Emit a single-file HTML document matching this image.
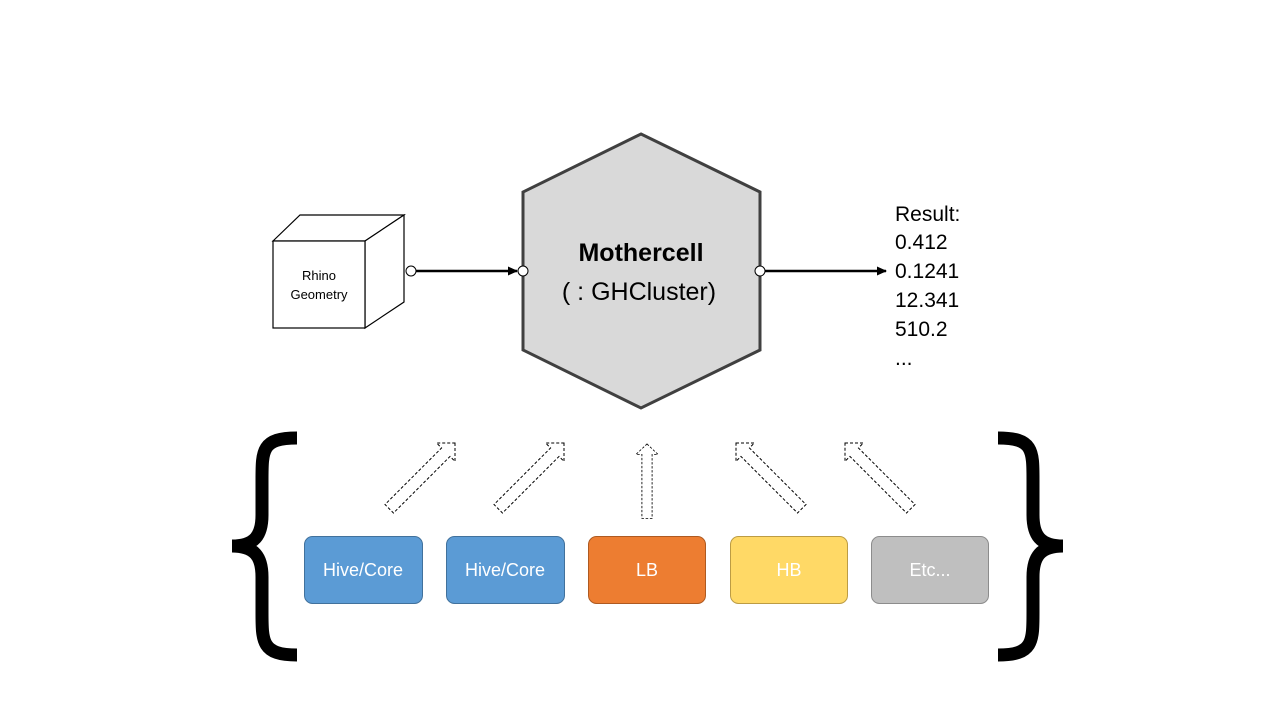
<!DOCTYPE html>
<html><head><style>
body{margin:0;width:1280px;height:720px;background:#fff;overflow:hidden;font-family:"Liberation Sans",sans-serif}
</style></head><body>
<svg width="1280" height="720" xmlns="http://www.w3.org/2000/svg">
<defs>
<marker id="ah" markerWidth="10" markerHeight="10" refX="9" refY="5" orient="auto" markerUnits="userSpaceOnUse"><path d="M0,0.5 L10,5 L0,9.5 z" fill="#000"/></marker>
<polygon id="arr" points="0,0 13,13 6,13 6,93 -6,93 -6,13 -13,13" fill="#fff" stroke="#000" stroke-width="1" stroke-dasharray="3,2"/>
</defs>
<g fill="#fff" stroke="#000" stroke-width="1.2">
<polygon points="273,241 300,215 404,215 365,241"/>
<polygon points="365,241 404,215 404,302 365,328"/>
<rect x="273" y="241" width="92" height="87"/>
</g>
<text x="319" y="280" font-size="13" text-anchor="middle">Rhino</text>
<text x="319" y="299" font-size="13" text-anchor="middle">Geometry</text>
<polygon points="641,134 760,192 760,350 641,408 523,350 523,192" fill="#d9d9d9" stroke="#404040" stroke-width="3"/>
<text x="641" y="261" font-size="25" font-weight="bold" text-anchor="middle">Mothercell</text>
<text x="639" y="300" font-size="25" text-anchor="middle">( : GHCluster)</text>
<line x1="416" y1="271" x2="517" y2="271" stroke="#000" stroke-width="2.5" marker-end="url(#ah)"/>
<line x1="765" y1="271" x2="886" y2="271" stroke="#000" stroke-width="2.5" marker-end="url(#ah)"/>
<circle cx="411" cy="271" r="5" fill="#fff" stroke="#000"/>
<circle cx="523" cy="271" r="5" fill="#fff" stroke="#000"/>
<circle cx="760" cy="271" r="5" fill="#fff" stroke="#000"/>
<g font-size="21" fill="#000">
<text x="895" y="221">Result:</text>
<text x="895" y="249">0.412</text>
<text x="895" y="278">0.1241</text>
<text x="895" y="307">12.341</text>
<text x="895" y="336">510.2</text>
<text x="895" y="365">...</text>
</g>
<use href="#arr" transform="translate(455,443) rotate(45)"/>
<use href="#arr" transform="translate(564,443) rotate(45)"/>
<use href="#arr" transform="translate(647,444) scale(0.85,0.8)"/>
<use href="#arr" transform="translate(736,443) rotate(-45)"/>
<use href="#arr" transform="translate(845,443) rotate(-45)"/>
<path d="M297,438 C262,438 262,450 262,480 L262,515 C262,535 255,546 232,546 C255,546 262,557 262,577 L262,612 C262,642 262,655 297,655" fill="none" stroke="#000" stroke-width="13"/>
<path d="M998,438 C1033,438 1033,450 1033,480 L1033,515 C1033,535 1040,546 1063,546 C1040,546 1033,557 1033,577 L1033,612 C1033,642 1033,655 998,655" fill="none" stroke="#000" stroke-width="13"/>
<g stroke-width="1">
<rect x="304.5" y="536.5" width="118" height="67" rx="8" fill="#5b9bd5" stroke="#41719c"/>
<rect x="446.5" y="536.5" width="118" height="67" rx="8" fill="#5b9bd5" stroke="#41719c"/>
<rect x="588.5" y="536.5" width="117" height="67" rx="8" fill="#ed7d31" stroke="#ae5a21"/>
<rect x="730.5" y="536.5" width="117" height="67" rx="8" fill="#ffd966" stroke="#bc9c44"/>
<rect x="871.5" y="536.5" width="117" height="67" rx="8" fill="#bfbfbf" stroke="#8c8c8c"/>
</g>
<g font-size="18" fill="#fff" text-anchor="middle">
<text x="363" y="576">Hive/Core</text>
<text x="505" y="576">Hive/Core</text>
<text x="647" y="576">LB</text>
<text x="789" y="576">HB</text>
<text x="930" y="576">Etc...</text>
</g>
</svg>
</body></html>
